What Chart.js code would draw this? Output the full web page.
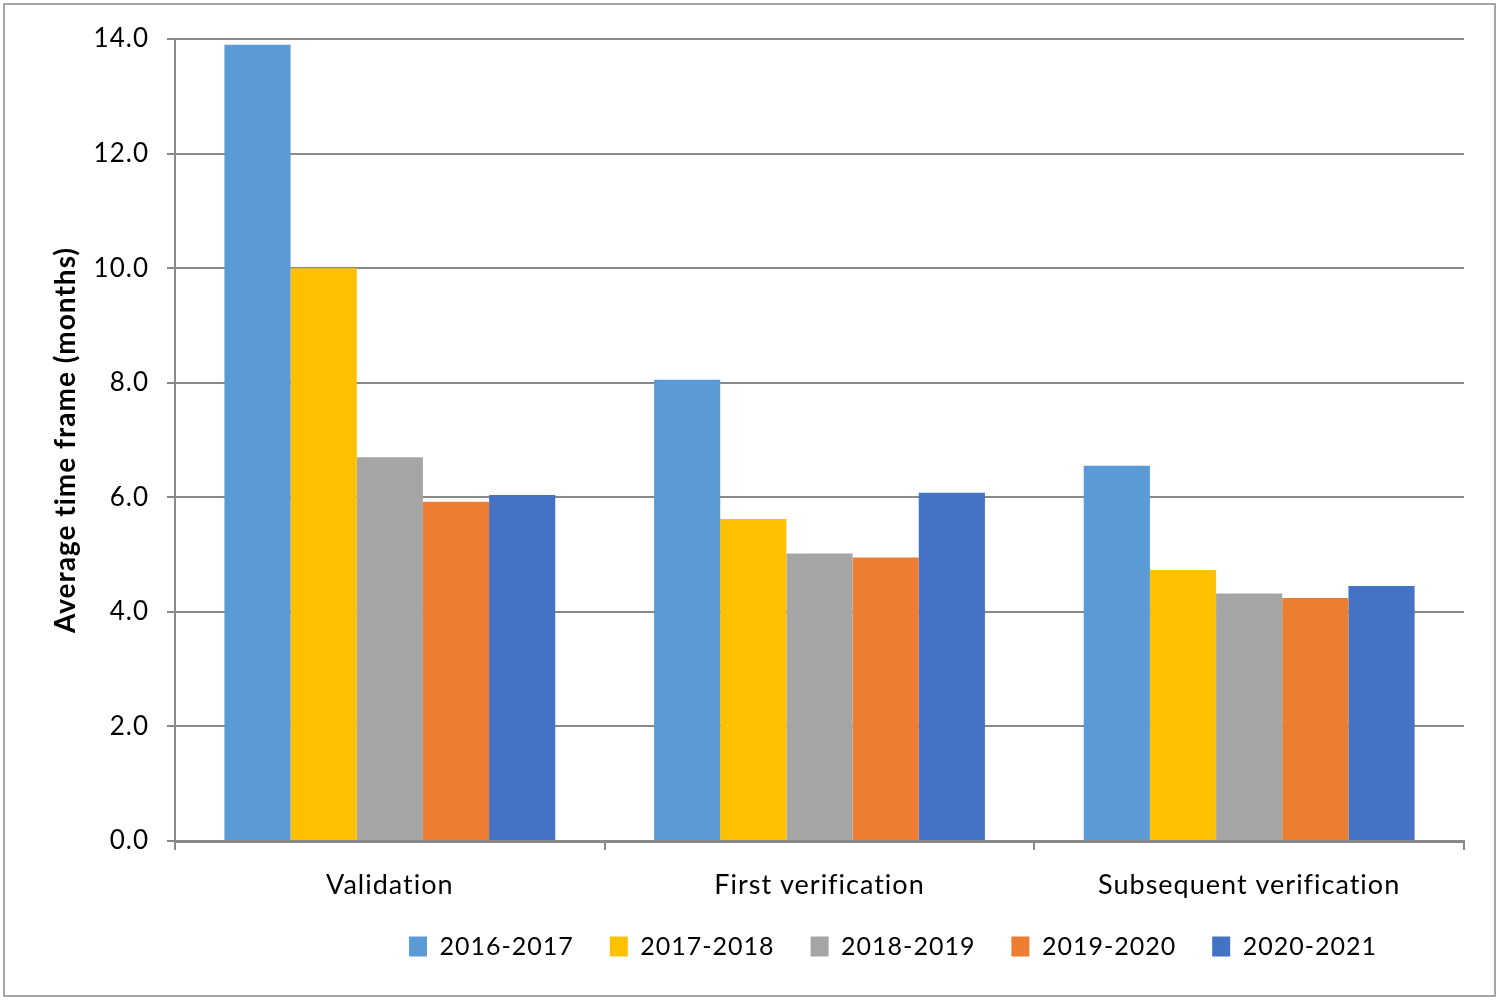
<!DOCTYPE html>
<html>
<head>
<meta charset="utf-8">
<script src="https://cdn.jsdelivr.net/npm/chart.js@4/dist/chart.umd.min.js"></script>
<style>
  html, body { margin: 0; padding: 0; background: #fff; }
  #wrap { width: 1499px; height: 1000px; position: relative; }
</style>
</head>
<body>
<div id="wrap"><canvas id="chart" width="1499" height="1000"></canvas></div>
<script>
const categories = ['Validation', 'First verification', 'Subsequent verification'];
const seriesNames = ['2016-2017', '2017-2018', '2018-2019', '2019-2020', '2020-2021'];
const values2016 = [13.9, 8.05, 6.55];
const values2017 = [10.0, 5.62, 4.73];
const values2018 = [6.7, 5.02, 4.32];
const values2019 = [5.92, 4.95, 4.24];
const values2020 = [6.04, 6.08, 4.45];
const seriesColors = ['#5B9BD5', '#FFC000', '#A5A5A5', '#ED7D31', '#4472C4'];

const allValues = [values2016, values2017, values2018, values2019, values2020];
const FONT = 'Lato, "Open Sans", sans-serif';

// outer frame + the slightly spaced-out lettering of the original
const framePlugin = {
  id: 'frame',
  beforeUpdate(chart) { chart.ctx.letterSpacing = '1px'; },
  afterLayout(chart) {
    // legend sits a bit right of centre in the original
    chart.legend.left += 141;
    chart.legend.right += 141;
  },
  beforeDraw(chart) {
    const c = chart.ctx;
    c.letterSpacing = '1px';
    c.save();
    c.fillStyle = '#fff';
    c.fillRect(0, 0, chart.width, chart.height);
    c.strokeStyle = '#a6a6a6';
    c.lineWidth = 2;
    c.strokeRect(4, 4, chart.width - 8, chart.height - 8);
    c.restore();
  }
};

new Chart(document.getElementById('chart').getContext('2d'), {
  type: 'bar',
  data: {
    labels: categories,
    datasets: seriesNames.map((name, i) => ({
      label: name,
      data: allValues[i],
      backgroundColor: seriesColors[i],
      borderWidth: 0,
      barPercentage: 1.0,
      categoryPercentage: 0.77
    }))
  },
  options: {
    responsive: false,
    animation: false,
    layout: { padding: { left: 40, right: 35, top: 39, bottom: 31 } },
    plugins: {
      legend: {
        position: 'bottom',
        labels: {
          font: { family: FONT, size: 25 },
          color: '#000',
          boxWidth: 18,
          boxHeight: 20,
          padding: 36
        }
      },
      tooltip: { enabled: false }
    },
    scales: {
      x: {
        afterFit(scale) { scale.height = 57; },
        grid: {
          offset: true,
          drawOnChartArea: false,
          drawTicks: true,
          tickLength: 9,
          color: '#898989',
          lineWidth: 2
        },
        border: { color: '#898989', width: 3 },
        ticks: {
          font: { family: FONT, size: 27 },
          color: '#000',
          padding: 19
        }
      },
      y: {
        min: 0,
        max: 14,
        afterFit(scale) { scale.width = 135; },
        ticks: {
          stepSize: 2,
          font: { family: FONT, size: 26 },
          color: '#000',
          padding: 18,
          callback: v => v.toFixed(1)
        },
        grid: {
          color: '#898989',
          lineWidth: 2,
          tickLength: 8
        },
        border: { color: '#898989', width: 2 },
        title: {
          display: true,
          text: 'Average time frame (months)',
          font: { family: FONT, size: 28, weight: 'bold' },
          color: '#000',
          padding: { top: 9, bottom: 0 }
        }
      }
    }
  },
  plugins: [framePlugin]
});
</script>
</body>
</html>
